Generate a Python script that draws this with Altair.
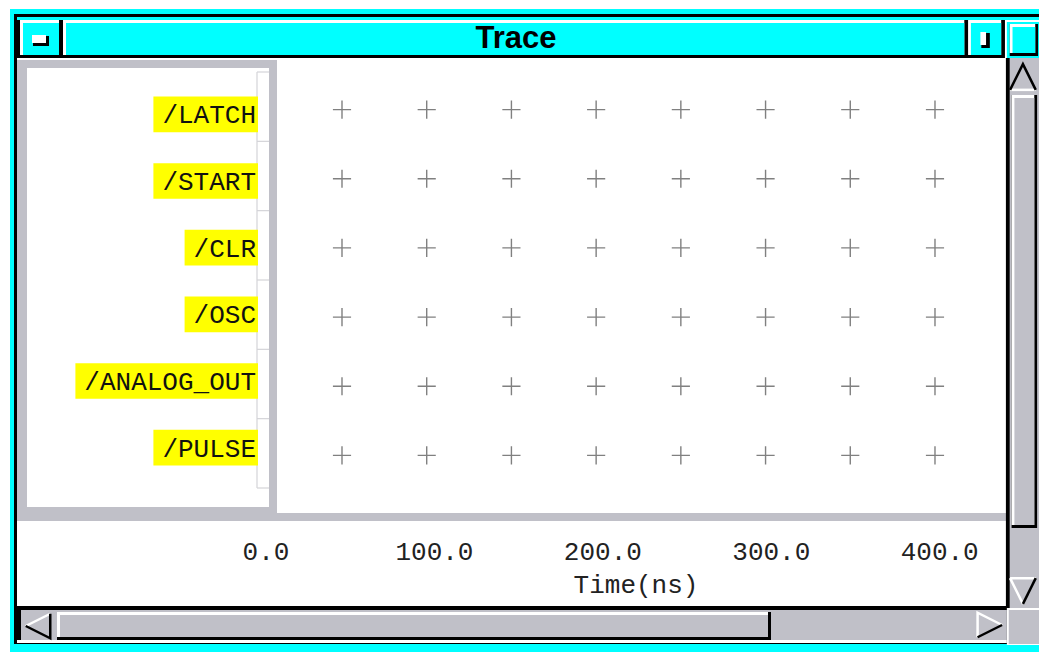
import altair as alt
import pandas as pd

# ---------------- data ----------------
signals = ["/LATCH", "/START", "/CLR", "/OSC", "/ANALOG_OUT", "/PULSE"]
time_ticks = [0, 100, 200, 300, 400]
time_labels = ["0.0", "100.0", "200.0", "300.0", "400.0"]
grid_columns = [0, 1, 2, 3, 4, 5, 6, 7]
window_title = "Trace"
axis_title = "Time(ns)"

# ---------------- layout helpers ----------------
W, H = 1031, 644
O = 8  # page margin


def X(v):
    # screen x -> chart x; the far-right strip is squeezed to fit the page
    if v <= 900:
        return v - O
    return (900 - O) + (v - 900) * (W - (900 - O)) / (1047 - 900)


def Y(v):
    return v - O


MONO = "Liberation Mono, Courier New, monospace"
SANS = "Liberation Sans, Arial, sans-serif"
CYAN = "#00ffff"
GRAY = "#c0c0c8"
dummy = pd.DataFrame({"k": [0]})


def box(x0, y0, x1, y1, fill):
    return alt.Chart(dummy).mark_rect(fill=fill).encode(
        x=alt.value(X(x0)), x2=alt.value(X(x1)),
        y=alt.value(Y(y0)), y2=alt.value(Y(y1)))


def bevel(x0, y0, x1, y1, fill, t=3):
    return [box(x0, y0, x1, y1, "black"),
            box(x0, y0, x1 - t, y1 - t, "white"),
            box(x0 + t, y0 + t, x1 - t, y1 - t, fill)]


def glyph(cx, cy, path, size, color, w=2.5):
    return alt.Chart(dummy).mark_point(
        shape=path, size=size, filled=False, stroke=color, strokeWidth=w,
        opacity=1).encode(x=alt.value(X(cx)), y=alt.value(Y(cy)))


layers = []
# window frame
layers.append(box(10, 9, 1047, 652, CYAN))
layers.append(box(14, 14, 1047, 644, "black"))
layers.append(box(17, 17, 1047, 20, CYAN))
# title row
layers += bevel(20, 20, 62, 58, CYAN)
layers.append(box(33, 36, 49, 46, "black"))
layers.append(box(32, 35, 46, 43, "white"))
layers += bevel(63, 20, 971, 58, CYAN)
layers += bevel(972, 20, 1010, 58, CYAN)
layers.append(box(986, 33, 995, 48, "black"))
layers.append(box(985, 32, 991, 45, "white"))
layers.append(box(1011, 20, 1047, 58, "white"))
layers.append(box(1013, 22, 1047, 58, CYAN))
layers.append(box(1016, 24, 1046, 56, "black"))
layers.append(box(1016, 24, 1043, 53, "white"))
layers.append(box(1019, 27, 1043, 53, CYAN))

# content area
layers.append(box(17, 58, 1013, 608, "white"))
layers.append(box(17, 60, 277, 521, GRAY))
layers.append(box(27, 68, 269, 507, "white"))
layers.append(box(17, 513, 1013, 521, GRAY))

# vertical scrollbar
layers.append(box(1012, 58, 1047, 608, "black"))
layers.append(box(1016, 58, 1047, 608, GRAY))
layers += bevel(1018, 95, 1045, 528, GRAY)
# horizontal scrollbar
layers.append(box(17, 606, 1013, 641, "black"))
layers.append(box(21, 610, 1013, 640, GRAY))
layers += bevel(57, 612, 771, 640, GRAY)
layers.append(box(1013, 608, 1047, 645, "white"))
layers.append(box(1015, 610, 1047, 644, GRAY))
layers.append(box(17, 640, 1013, 643, "white"))

# arrows (light edges / dark edges)
layers.append(glyph(1030, 77, "M-1,1L1,1", 660, "white"))
layers.append(glyph(1030, 77, "M-1,1L0,-1L1,1", 660, "black"))
layers.append(glyph(1030, 591, "M-1,-1L1,-1M-1,-1L0,1", 660, "white"))
layers.append(glyph(1030, 591, "M0,1L1,-1", 660, "black"))
layers.append(glyph(38, 626, "M1,-1L-1,0", 600, "white"))
layers.append(glyph(38, 626, "M-1,0L1,1L1,-1", 600, "black"))
layers.append(glyph(995, 625, "M-1,1L-1,-1L1,0", 600, "white"))
layers.append(glyph(995, 625, "M1,0L-1,1", 600, "black"))

# ---------------- data layers ----------------
rows_df = pd.DataFrame({"signal": signals, "row": list(range(len(signals)))})
bounds_df = pd.DataFrame({"b": [i - 0.5 for i in range(len(signals) + 1)]})
ruler_scale = alt.Scale(domain=[-0.5, len(signals) - 0.5], range=[Y(72), Y(488)])
label_scale = alt.Scale(domain=[-0.5, len(signals) - 0.5], range=[Y(81), Y(481)])
cross_scale = alt.Scale(domain=[-0.5, len(signals) - 0.5], range=[Y(75), Y(490)])
pixel_x = alt.Scale(domain=[0, W], range=[0, W])

# ruler beside the signal names
layers.append(alt.Chart(bounds_df).mark_rule(color="#d4d4d8", strokeWidth=1.2).encode(
    x=alt.value(X(257)), x2=alt.value(X(269)),
    y=alt.Y("b:Q", scale=ruler_scale, axis=None)))
layers.append(alt.Chart(pd.DataFrame({"a": [bounds_df.b.min()], "z": [bounds_df.b.max()]}))
              .mark_rule(color="#d4d4d8", strokeWidth=1.2).encode(
    x=alt.value(X(257)),
    y=alt.Y("a:Q", scale=ruler_scale, axis=None), y2="z:Q"))

# yellow label backgrounds
layers.append(alt.Chart(rows_df).transform_calculate(
    left=f"{X(258)} - (length(datum.signal) * 15.6 + 11)",
    y0="datum.row - 0.267", y1="datum.row + 0.267",
).mark_rect(fill="#ffff00").encode(
    x=alt.X("left:Q", scale=pixel_x, axis=None), x2=alt.value(X(258)),
    y=alt.Y("y0:Q", scale=label_scale, axis=None), y2="y1:Q"))
layers.append(alt.Chart(rows_df).mark_text(
    align="right", baseline="middle", font=MONO, fontSize=26, color="#111", dy=1
).encode(x=alt.value(X(256)), y=alt.Y("row:Q", scale=label_scale, axis=None),
         text="signal:N"))

# grid crosses
cross_df = pd.DataFrame([{"row": r, "col": c} for r in range(len(signals)) for c in grid_columns])
layers.append(alt.Chart(cross_df).mark_point(
    shape="M-1,0L1,0M0,-1L0,1", size=330, filled=False, stroke="#808080",
    strokeWidth=1.4, opacity=1).encode(
    x=alt.X("col:Q", scale=alt.Scale(domain=[min(grid_columns), max(grid_columns)],
                                       range=[X(342), X(937)]), axis=None),
    y=alt.Y("row:Q", scale=cross_scale, axis=None)))

# time axis labels
time_df = pd.DataFrame({"t": time_ticks, "label": time_labels})
layers.append(alt.Chart(time_df).mark_text(
    align="center", baseline="middle", font=MONO, fontSize=26, color="#222").encode(
    x=alt.X("t:Q", scale=alt.Scale(domain=[0, 400], range=[X(266), X(942)]), axis=None),
    y=alt.value(Y(552)), text="label:N"))
layers.append(alt.Chart(dummy).mark_text(
    align="center", baseline="middle", font=MONO, fontSize=26, color="#222",
    text=axis_title).encode(x=alt.value(X(636)), y=alt.value(Y(585))))

# window title
layers.append(alt.Chart(dummy).mark_text(
    align="center", baseline="middle", font=SANS, fontSize=31, fontWeight="bold",
    color="black", text=window_title).encode(x=alt.value(X(516)), y=alt.value(Y(39))))

chart = alt.layer(*layers).resolve_scale(x="independent", y="independent").properties(
    width=W, height=H, autosize=alt.AutoSizeParams(type="none"), padding=0,
    background="white"
).configure_view(stroke=None)

chart.save("out.html", embed_options={"renderer": "svg", "actions": False})
